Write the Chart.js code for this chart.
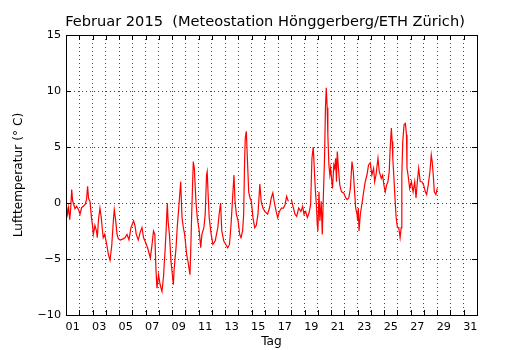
<!DOCTYPE html>
<html><head><meta charset="utf-8">
<script src="https://cdn.jsdelivr.net/npm/chart.js@4/dist/chart.umd.min.js"></script>
<style>html,body{margin:0;padding:0;background:#fff}#wrap{width:530px;height:350px}</style>
</head><body><div id="wrap"><canvas id="c" width="530" height="350"></canvas></div>
<script>
// Elapsed days since 1 Feb 2015 00:00
const days = [
0.00,0.05,0.12,0.20,0.28,0.35,0.43,0.50,0.60,0.68,0.80,0.95,1.06,1.18,1.31,1.45,1.55,1.63,1.70,1.81,1.92,2.00,2.06,2.18,2.30,2.36,2.45,2.56,2.66,2.75,2.81,2.92,3.07,3.20,3.32,3.45,3.57,3.64,3.75,3.85,3.95,
4.10,4.30,4.45,4.60,4.75,4.90,5.10,5.20,5.30,5.45,5.60,5.73,5.85,6.00,6.15,6.36,6.48,6.60,6.70,6.78,6.86,6.98,7.10,7.24,7.36,7.42,7.47,7.55,7.64,7.70,7.80,7.92,8.10,8.15,8.30,8.40,8.50,8.65,8.75,8.85,8.95,9.10,9.20,9.35,9.40,9.48,9.60,9.68,9.80,9.90,10.05,10.16,10.25,10.40,10.50,10.60,10.65,10.72,10.80,10.95,
11.08,11.25,11.45,11.55,11.66,11.75,11.90,12.05,12.20,12.33,12.45,12.58,12.67,12.75,12.85,12.98,13.10,13.20,13.32,13.40,13.47,13.52,13.60,13.68,13.78,13.88,13.98,14.10,14.23,14.35,14.48,14.62,14.72,14.85,15.00,15.20,15.35,15.48,15.60,15.72,15.85,15.97,16.10,16.25,16.40,16.52,16.64,16.77,16.90,
17.00,17.12,17.27,17.40,17.55,17.72,17.85,17.95,18.08,18.20,18.33,18.45,18.55,18.65,18.75,18.83,18.90,18.95,19.00,19.08,19.15,19.25,19.33,19.40,19.50,19.57,19.63,19.70,19.75,19.83,19.90,19.96,20.03,20.10,20.20,20.27,20.34,20.40,20.46,20.55,20.65,20.78,20.95,21.10,21.20,21.33,21.45,21.57,21.67,21.75,21.85,21.95,22.00,22.05,22.10,22.20,22.35,22.45,22.57,22.70,22.82,22.95,
23.07,23.20,23.28,23.38,23.53,23.63,23.78,23.88,23.98,24.08,24.18,24.28,24.38,24.45,24.54,24.60,24.65,24.72,24.80,24.90,25.00,25.10,25.20,25.28,25.33,25.40,25.50,25.60,25.68,25.72,25.80,25.92,26.05,26.18,26.30,26.40,26.50,26.60,26.72,26.85,26.98,27.10,27.20,27.32,27.45,27.55,27.62,27.70,27.78,27.90,28.00
];
// Air temperature (°C); null = missing reading
const temps = [
-0.5,-0.3,-1.0,-0.4,-1.5,-0.6,1.2,0.2,-0.2,-0.5,-0.3,-0.6,-1.0,-0.4,-0.3,-0.1,0.3,1.5,0.4,0.15,-1.3,-2.0,-2.8,-2.0,-2.5,-3.1,-1.5,-0.45,-1.3,-2.5,-3.1,-2.8,-3.7,-4.6,-5.1,-3.8,-1.6,-0.6,-1.6,-2.8,-3.2,
-3.3,-3.2,-3.1,-2.8,-3.3,-2.2,-1.6,-2.0,-2.8,-3.3,-2.6,-2.2,-3.1,-3.5,-4.0,-4.9,-3.8,-2.5,-2.8,-5.8,-7.6,-6.4,-7.3,-7.9,-6.5,-5.2,-4.3,-2.5,0.0,-1.6,-2.8,-5.2,-7.3,-6.0,-4.0,-2.0,-0.5,1.9,-1.3,-2.2,-2.8,-4.6,-5.2,-6.4,-4.6,-1.0,3.7,3.1,0.15,-1.3,-2.5,-4.0,-2.8,-2.2,-1.0,2.5,2.8,0.8,-1.3,-2.8,
-3.7,-3.4,-2.2,-1.0,0.0,-2.5,-3.4,-3.7,-4.0,-3.7,-1.9,0.75,2.5,0.15,-1.0,-1.6,-2.8,-3.1,-2.5,-1.0,3.7,5.8,6.4,4.0,1.0,0.45,0.15,-1.3,-2.2,-2.0,-1.0,1.7,0.15,-0.45,-0.75,-1.0,-0.45,0.45,0.9,0.0,-0.75,-1.3,-0.75,-0.45,-0.45,-0.15,0.6,0.15,null,
0.3,-0.3,-1.0,-1.2,-0.45,-0.75,-0.3,-1.0,-0.75,-1.3,-0.9,-0.15,4.0,5.0,2.5,0.75,-0.45,-1.9,-2.5,1.0,-1.6,0.15,-2.8,0.15,4.0,8.5,10.3,8.5,6.1,3.4,2.5,3.1,2.2,1.3,3.4,3.1,4.0,1.9,4.6,3.1,1.6,1.0,0.9,0.45,0.3,0.45,1.3,3.7,2.8,1.3,-0.45,-1.0,-1.6,-0.45,-2.5,-1.0,0.15,1.0,1.9,2.5,3.4,3.6,
2.5,3.1,1.9,2.5,4.0,2.8,2.2,2.5,1.6,1.0,1.6,1.9,2.8,4.9,6.7,5.5,4.0,2.5,0.75,-1.3,-2.2,-2.2,-3.1,-2.2,2.5,5.5,7.0,7.1,6.1,3.1,2.5,1.3,1.9,1.0,1.9,0.45,1.9,3.1,1.9,1.9,1.6,1.0,0.75,1.6,2.8,4.3,3.7,2.5,1.0,0.75,1.3
];
const dayLabels = ['01','03','05','07','09','11','13','15','17','19','21','23','25','27','29','31'];
const monthDays = 31;
const yTicks = [-10,-5,0,5,10,15];
const titleText = 'Februar 2015  (Meteostation Hönggerberg/ETH Zürich)';
const xTitle = 'Tag';
const yTitle = 'Lufttemperatur (° C)';

const FONT = 'DejaVu Sans';
const gridColor = 'rgba(0,0,0,0.75)';

const frame = {
  id: 'frame',
  afterDraw(chart) {
    const {ctx, chartArea: a, scales} = chart;
    ctx.save();
    ctx.strokeStyle = '#000';
    ctx.lineWidth = 1;
    const L = 5;
    ctx.beginPath();
    for (let d = 1; d < monthDays; d++) {
      const px = Math.round(scales.xg.getPixelForValue(d)) + 0.5;
      ctx.moveTo(px, a.bottom); ctx.lineTo(px, a.bottom - L);
      ctx.moveTo(px, a.top); ctx.lineTo(px, a.top + L);
    }
    yTicks.forEach(v => {
      const py = Math.round(scales.y.getPixelForValue(v)) + 0.5;
      ctx.moveTo(a.left, py); ctx.lineTo(a.left + L, py);
      ctx.moveTo(a.right, py); ctx.lineTo(a.right - L, py);
    });
    ctx.stroke();
    ctx.strokeRect(Math.round(a.left) + 0.5, Math.round(a.top) + 0.5, Math.round(a.right - a.left), Math.round(a.bottom - a.top));
    ctx.restore();
  }
};

new Chart(document.getElementById('c'), {
  type: 'line',
  data: {
    datasets: [{
      data: days.map((d, i) => ({x: d, y: temps[i]})),
      borderColor: '#ff0000',
      borderWidth: 1.2,
      pointRadius: 0,
      tension: 0,
      spanGaps: false,
      fill: false
    }]
  },
  options: {
    responsive: false,
    animation: false,
    devicePixelRatio: 1,
    layout: {padding: 0},
    plugins: {
      legend: {display: false},
      tooltip: {enabled: false},
      title: {
        display: true, text: titleText, color: '#000',
        font: {family: FONT, size: 14.6, weight: 'normal'},
        padding: {top: 13, bottom: 4.5}
      }
    },
    scales: {
      x: {
        type: 'linear', position: 'bottom', min: 0, max: monthDays,
        afterBuildTicks: s => { s.ticks = dayLabels.map(l => ({value: Number(l) - 0.5})); },
        ticks: {
          autoSkip: false, maxRotation: 0, color: '#000', padding: 5,
          font: {family: FONT, size: 11.2},
          callback: v => String(Math.round(v + 0.5)).padStart(2, '0')
        },
        grid: {display: false, drawTicks: false},
        border: {display: false},
        title: {display: true, text: xTitle, color: '#000', font: {family: FONT, size: 12.2}, padding: {top: 0, bottom: 1}},
        afterFit: s => { s.height = 35; }
      },
      xg: {
        type: 'linear', position: 'bottom', min: 0, max: monthDays,
        afterBuildTicks: s => { const t = []; for (let d = 0; d <= monthDays; d++) t.push({value: d}); s.ticks = t; },
        ticks: {display: false},
        grid: {display: true, color: gridColor, lineWidth: 1, drawTicks: false},
        border: {display: false, dash: [1, 3]},
        afterFit: s => { s.height = 0; }
      },
      y: {
        type: 'linear', min: -10, max: 15,
        afterBuildTicks: s => { s.ticks = yTicks.map(v => ({value: v})); },
        ticks: {color: '#000', padding: 5, font: {family: FONT, size: 11.2},
          callback: v => String(v).replace('-', '\u2212')},
        grid: {color: gridColor, lineWidth: 1, drawTicks: false},
        border: {display: false, dash: [1, 3]},
        title: {display: true, text: yTitle, color: '#000', font: {family: FONT, size: 12.2}, padding: {top: 12, bottom: 0}},
        afterFit: s => { s.width = 66; }
      },
      yr: {
        type: 'linear', position: 'right', display: true,
        ticks: {display: false},
        grid: {display: false, drawTicks: false},
        border: {display: false},
        afterFit: s => { s.width = 53; }
      }
    }
  },
  plugins: [frame]
});
</script>
</body></html>
